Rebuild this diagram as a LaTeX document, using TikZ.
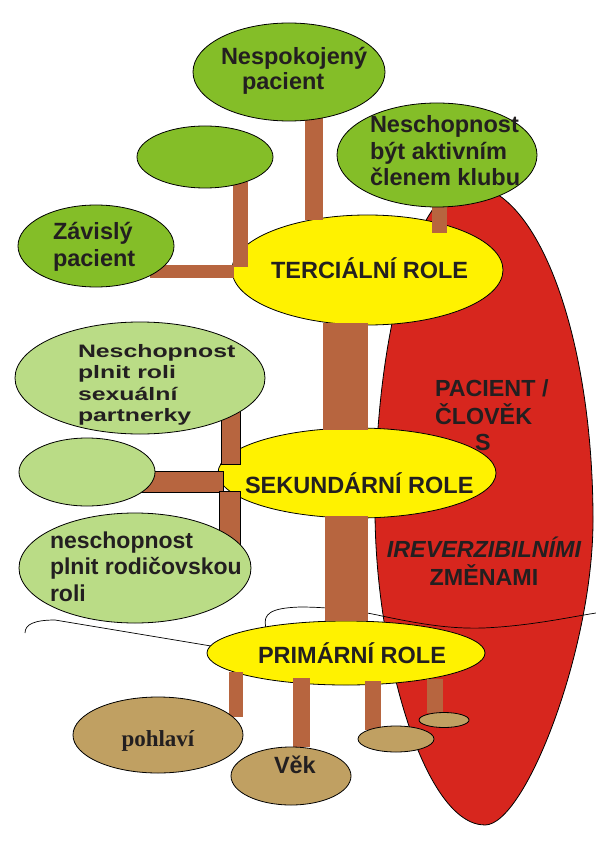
\documentclass[tikz,border=0pt]{standalone}
\usepackage{fontspec}
\setmainfont{Liberation Sans}
\newfontfamily\stretchsans[FakeStretch=1.38]{Liberation Sans}
\newfontfamily\serifface{Liberation Serif}
\usetikzlibrary{shapes.geometric}
\definecolor{leafgreen}{RGB}{132,190,40}
\definecolor{paleleaf}{RGB}{186,220,134}
\definecolor{roleyellow}{RGB}{255,242,0}
\definecolor{barkbrown}{RGB}{183,101,63}
\definecolor{personred}{RGB}{215,38,30}
\definecolor{roottan}{RGB}{192,160,98}
\definecolor{ink}{RGB}{35,31,32}
\newcommand\mylines[1]{\begin{tabular}[t]{@{}l@{}}#1\end{tabular}}
\newcommand\mycentered[1]{\begin{tabular}[t]{@{}c@{}}#1\end{tabular}}
\begin{document}
\begin{tikzpicture}[x=1pt,y=-1pt,
  blob/.style={ellipse, draw=black, line width=0.8pt, inner sep=0pt, outer sep=0pt},
  leaf/.style={blob, fill=leafgreen},
  paleblob/.style={blob, fill=paleleaf},
  rolebox/.style={blob, fill=roleyellow},
  rootblob/.style={blob, fill=roottan},
  bark/.style={fill=barkbrown},
  barkline/.style={fill=barkbrown, draw=black, line width=0.8pt},
  hairline/.style={draw=black, line width=0.7pt},
  txt/.style={inner sep=0pt, outer sep=0pt, anchor=base west, text=ink},
  bigfont/.style={font=\fontsize{23.5}{26.5}\selectfont\bfseries}
]
\useasboundingbox (0,0) rectangle (596,842);

% person (red egg shape)
\draw[fill=personred, line width=0.8pt] (468,185)
  .. controls (537,185) and (593,335) .. (593,520)
  .. controls (593,650) and (525,825) .. (485,825)
  .. controls (424,825) and (375,651) .. (375,510)
  .. controls (375,331) and (417,185) .. cycle;

% role ellipses
\node[rolebox, minimum width=271pt, minimum height=110pt] (terc) at (367.5,270) {};
\node[rolebox, minimum width=278pt, minimum height=90pt] (sek) at (357,473) {};
\node[rolebox, minimum width=278pt, minimum height=64pt] (prim) at (346,653) {};

% thin curves
\draw[hairline] (25,633) .. controls (25,624) and (35,620) .. (55,620) -- (prim.177);
\draw[hairline] (prim.162) .. controls (263,614) and (270,608) .. (300,607)
  .. controls (330,607) and (360,611) .. (382,616)
  .. controls (420,624) and (450,629) .. (483,628)
  .. controls (530,626) and (570,617) .. (596,613);

% trunks and branches
\fill[bark] (305,117) rectangle (323,220);
\fill[bark] (233,182) rectangle (247.5,267);
\fill[bark] (150,265) rectangle (233.5,278);
\fill[bark] (432,207) rectangle (447,233);
\fill[bark] (323,323) rectangle (368,430);
\fill[bark] (325,516) rectangle (368,621);
\fill[bark] (229,672) rectangle (243,717);
\fill[bark] (293,678) rectangle (310,747);
\fill[bark] (365,681) rectangle (381,730);
\fill[bark] (427,679) rectangle (443,713);
\draw[barkline] (221.7,405) rectangle (240,464);
\draw[barkline] (140,471) rectangle (223.3,492.7);
\draw[barkline] (219.3,491.7) rectangle (240,545);

% tertiary leaves
\node[leaf, minimum width=192pt, minimum height=98pt] (nesp) at (289,72) {};
\node[leaf, minimum width=136pt, minimum height=62pt] (emptyleaf) at (205,157) {};
\node[leaf, minimum width=156pt, minimum height=82pt] (zav) at (96,246) {};
\node[leaf, minimum width=200pt, minimum height=104pt] (byt) at (437,155) {};

% secondary leaves
\node[paleblob, minimum width=250pt, minimum height=112pt] (sex) at (140,378) {};
\node[paleblob, minimum width=136pt, minimum height=68pt] (emptypale) at (87,472) {};
\node[paleblob, minimum width=232pt, minimum height=110pt] (rod) at (135,568) {};

% roots
\node[rootblob, minimum width=170pt, minimum height=76pt] (pohl) at (158,735) {};
\node[rootblob, minimum width=120pt, minimum height=58pt] (vek) at (291,776) {};
\node[rootblob, minimum width=76pt, minimum height=26pt] (rootc) at (396,739) {};
\node[rootblob, minimum width=50pt, minimum height=15pt] (rootd) at (444,720) {};

% texts
\node[txt, font=\fontsize{23.5}{25}\selectfont\bfseries] (tnesp) at (221,65) {\mylines{Nespokojený\\\hspace*{21pt}pacient}};
\node[txt, bigfont] (tbyt) at (370,133) {\mylines{Neschopnost\\být aktivním\\členem klubu}};
\node[txt, font=\fontsize{23.5}{27}\selectfont\bfseries] (tzav) at (53,240) {\mylines{Závislý\\pacient}};
\node[txt, bigfont] (tterc) at (271,278) {TERCIÁLNÍ ROLE};
\node[txt, bigfont] (tsek) at (245,493) {SEKUNDÁRNÍ ROLE};
\node[txt, bigfont] (tprim) at (258,663) {PRIMÁRNÍ ROLE};
\node[txt, font=\fontsize{23.3}{26}\selectfont\bfseries] (tpac) at (435,396) {\mylines{PACIENT /\\ČLOVĚK\\\hspace*{40pt}S}};
\node[txt, anchor=base, font=\fontsize{23.3}{26}\selectfont\bfseries] (tirev) at (484,557) {\mycentered{\itshape IREVERZIBILNÍMI\\ZMĚNAMI}};
\node[txt, font=\stretchsans\fontsize{18}{21.6}\selectfont\bfseries] (tsex) at (78,357) {\mylines{Neschopnost\\plnit roli\\sexuální\\partnerky}};
\node[txt, font=\fontsize{23}{26.5}\selectfont\bfseries] (trod) at (50,548) {\mylines{neschopnost\\plnit rodičovskou\\roli}};
\node[txt, font=\serifface\fontsize{23}{26}\selectfont\bfseries] (tpohl) at (121.5,746) {pohlaví};
\node[txt, bigfont] (tvek) at (274,773) {Věk};
\end{tikzpicture}
\end{document}
